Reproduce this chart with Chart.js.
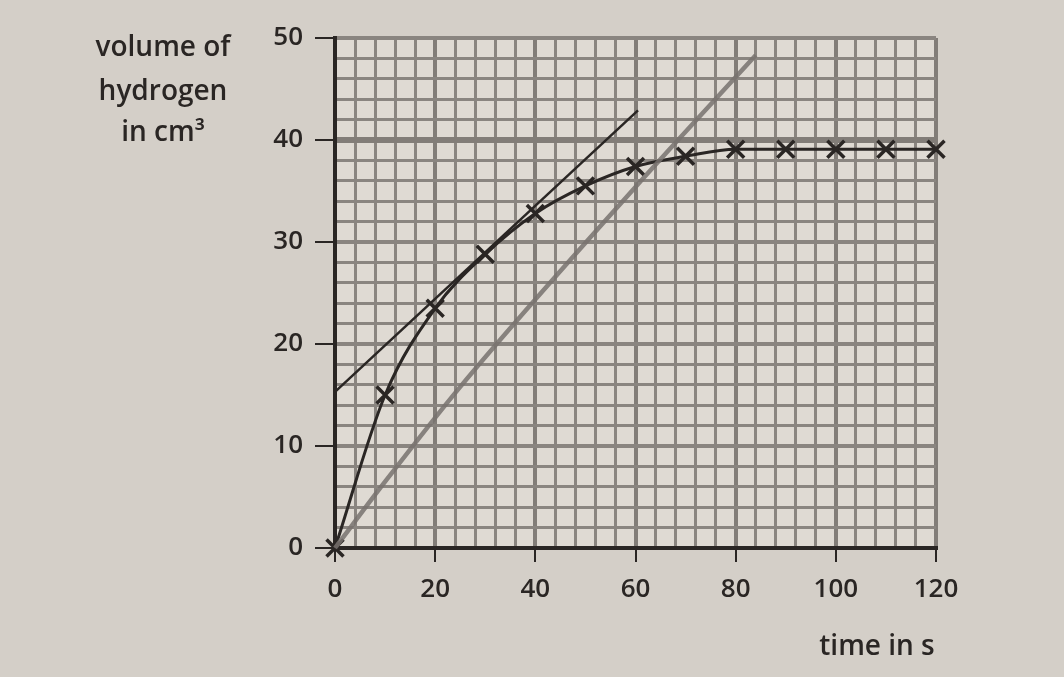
<!DOCTYPE html>
<html>
<head>
<meta charset="utf-8">
<script src="https://cdn.jsdelivr.net/npm/chart.js@4.4.1/dist/chart.umd.min.js"></script>
<style>
  html, body { margin: 0; padding: 0; background: #d4cfc8; }
  #wrap { width: 1064px; height: 677px; }
</style>
</head>
<body>
<div id="wrap"><canvas id="myChart" width="1064" height="677"></canvas></div>
<script>
// measured points (crosses) on the curve
const times = [0, 10, 20, 30, 40, 50, 60, 70, 80, 90, 100, 110, 120];
const volumes = [0, 15, 23.5, 28.8, 32.8, 35.5, 37.4, 38.4, 39.1, 39.1, 39.1, 39.1, 39.1];

// tangent drawn at t = 40
const tangentTimes = [0, 60.5];
const tangentVolumes = [15.3, 42.9];

// grey line from origin
const greyTimes = [0, 10, 25, 60, 84];
const greyVolumes = [0, 6.5, 15.8, 35.4, 48.3];

const xLabels = [0, 20, 40, 60, 80, 100, 120];
const yLabels = [0, 10, 20, 30, 40, 50];

const yTitle = ['volume of', 'hydrogen', 'in cm³'];
const xTitle = 'time in s';

const INK = '#2a2624';
const GRID = '#8a8580';
const FONT = '"Open Sans", sans-serif';

function toXY(xs, ys) {
    return xs.map((x, i) => ({ x: x, y: ys[i] }));
}

const paperBg = {
    id: 'paperBg',
    beforeDraw(chart) {
        const { ctx, chartArea } = chart;
        ctx.save();
        ctx.fillStyle = '#dfdad3';
        ctx.fillRect(chartArea.left, chartArea.top, chartArea.right - chartArea.left, chartArea.bottom - chartArea.top);
        ctx.restore();
    }
};

const titles = {
    id: 'titles',
    afterDraw(chart) {
        const ctx = chart.ctx;
        ctx.save();
        ctx.fillStyle = INK;
        ctx.font = '600 28px ' + FONT;
        ctx.textAlign = 'center';
        ctx.textBaseline = 'middle';
        const ys = [48, 92, 133];
        yTitle.forEach((t, i) => ctx.fillText(t, 163, ys[i]));
        ctx.fillText(xTitle, 877, 647);
        ctx.restore();
    }
};

const ctx = document.getElementById('myChart').getContext('2d');
const chart = new Chart(ctx, {
    type: 'scatter',
    data: {
        datasets: [{
            label: 'tangent',
            data: toXY(tangentTimes, tangentVolumes),
            showLine: true,
            borderColor: INK,
            borderWidth: 2.5,
            pointRadius: 0,
            clip: false,
            order: 3
        }, {
            label: 'volume of hydrogen',
            data: toXY(times, volumes),
            showLine: true,
            borderColor: INK,
            borderWidth: 3,
            cubicInterpolationMode: 'monotone',
            pointStyle: 'crossRot',
            pointRadius: 12,
            pointBorderWidth: 3.5,
            pointBorderColor: INK,
            clip: false,
            order: 2
        }, {
            label: 'grey line',
            data: toXY(greyTimes, greyVolumes),
            showLine: true,
            borderColor: 'rgba(120, 114, 110, 0.85)',
            borderWidth: 4.5,
            cubicInterpolationMode: 'monotone',
            pointRadius: 0,
            clip: false,
            order: 1
        }]
    },
    options: {
        responsive: false,
        animation: false,
        layout: { padding: { top: 38, right: 128, left: 0, bottom: 0 } },
        plugins: {
            legend: { display: false },
            tooltip: { enabled: false }
        },
        scales: {
            x: {
                type: 'linear',
                min: 0,
                max: 120,
                afterFit: s => { s.height = 129; },
                border: { color: INK, width: 4 },
                grid: {
                    color: c => c.tick.value % 20 === 0 ? '#827d78' : GRID,
                    lineWidth: c => c.tick.value % 20 === 0 ? 4 : 3,
                    tickLength: 14,
                    tickColor: c => xLabels.includes(c.tick.value) ? INK : 'rgba(0,0,0,0)',
                    tickWidth: 2
                },
                ticks: {
                    stepSize: 4,
                    autoSkip: false,
                    maxRotation: 0,
                    padding: 12,
                    color: INK,
                    font: { family: FONT, size: 26, weight: '600' },
                    callback: v => xLabels.includes(v) ? String(v) : ''
                }
            },
            y: {
                type: 'linear',
                min: 0,
                max: 50,
                afterFit: s => { s.width = 335; },
                border: { color: INK, width: 4 },
                grid: {
                    color: c => c.tick.value === 40 ? '#827d78' : GRID,
                    lineWidth: c => c.tick.value === 40 ? 6 : (c.tick.value % 10 === 0 ? 4 : 3),
                    tickLength: 20,
                    tickColor: c => yLabels.includes(c.tick.value) ? INK : 'rgba(0,0,0,0)',
                    tickWidth: 2
                },
                ticks: {
                    stepSize: 2,
                    autoSkip: false,
                    padding: 12,
                    color: INK,
                    font: { family: FONT, size: 26, weight: '600' },
                    callback: v => yLabels.includes(v) ? String(v) : ''
                }
            }
        }
    },
    plugins: [paperBg, titles]
});
</script>
</body>
</html>
